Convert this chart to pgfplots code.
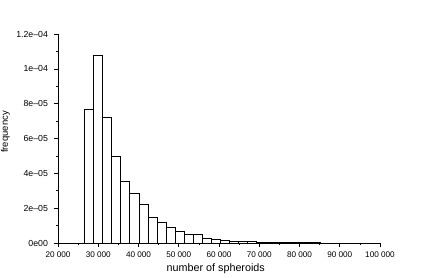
\documentclass[border=0pt]{standalone}
\usepackage{fontspec}
\setmainfont{Liberation Sans}
\usepackage{pgfplots}
\pgfplotsset{compat=1.18}
\begin{document}
\begin{tikzpicture}
\useasboundingbox (0,0) rectangle (436bp,278bp);
\begin{axis}[
  at={(58bp,35bp)}, anchor=south west,
  scale only axis, width=322bp, height=209bp,
  xmin=20000, xmax=100000, ymin=0, ymax=1.2e-4,
  axis lines=left, axis line style={-, line width=0.7bp},
  tick align=outside, major tick length=4bp, minor tick length=2bp,
  every tick/.style={line width=0.6bp, black},
  xtick={20000,30000,...,100000},
  xticklabels={20 000,30 000,40 000,50 000,60 000,70 000,80 000,90 000,100 000},
  ytick={0,2e-5,4e-5,6e-5,8e-5,1e-4,1.2e-4},
  yticklabels={0e00,2e--05,4e--05,6e--05,8e--05,1e--04,1.2e--04},
  scaled y ticks=false, scaled x ticks=false,
  minor x tick num=1, minor y tick num=1,
  xticklabel style={font=\fontsize{8.2}{9}\selectfont, yshift=-1bp},
  yticklabel style={font=\fontsize{8.8}{9}\selectfont, xshift=-2.5bp},
  xlabel={number of spheroids}, ylabel={frequency},
  xlabel style={font=\fontsize{10.8}{12}\selectfont, at={(rel axis cs:0.49,0)}, anchor=center, yshift=-26bp},
  ylabel style={font=\fontsize{9.5}{10}\selectfont, at={(axis description cs:-0.163,0.531)}, anchor=center},
  clip=false,
]
\addplot[ybar interval, fill=white, draw=black, line width=0.6bp] coordinates {
(26575,7.65e-5) (28825,10.8e-5) (31075,7.2e-5) (33325,5.0e-5) (35575,3.56e-5)
(37825,2.85e-5) (40075,2.24e-5) (42325,1.49e-5) (44575,1.17e-5) (46825,0.89e-5)
(49075,0.69e-5) (51325,0.48e-5) (53575,0.50e-5) (55825,0.25e-5) (58075,0.20e-5)
(60325,0.14e-5) (62575,0.11e-5) (64825,0.08e-5) (67075,0.07e-5) (69325,0.05e-5)
(71575,0.04e-5) (73825,0.04e-5) (76075,0.03e-5) (78325,0.02e-5) (80575,0.02e-5)
(82825,0.015e-5) (85075,0.01e-5) (87325,0.01e-5) (89575,0.008e-5) (91825,0.006e-5)
(94075,0.005e-5) (96325,0.004e-5) (98575,0.004e-5)
};
\end{axis}
\end{tikzpicture}
\end{document}
